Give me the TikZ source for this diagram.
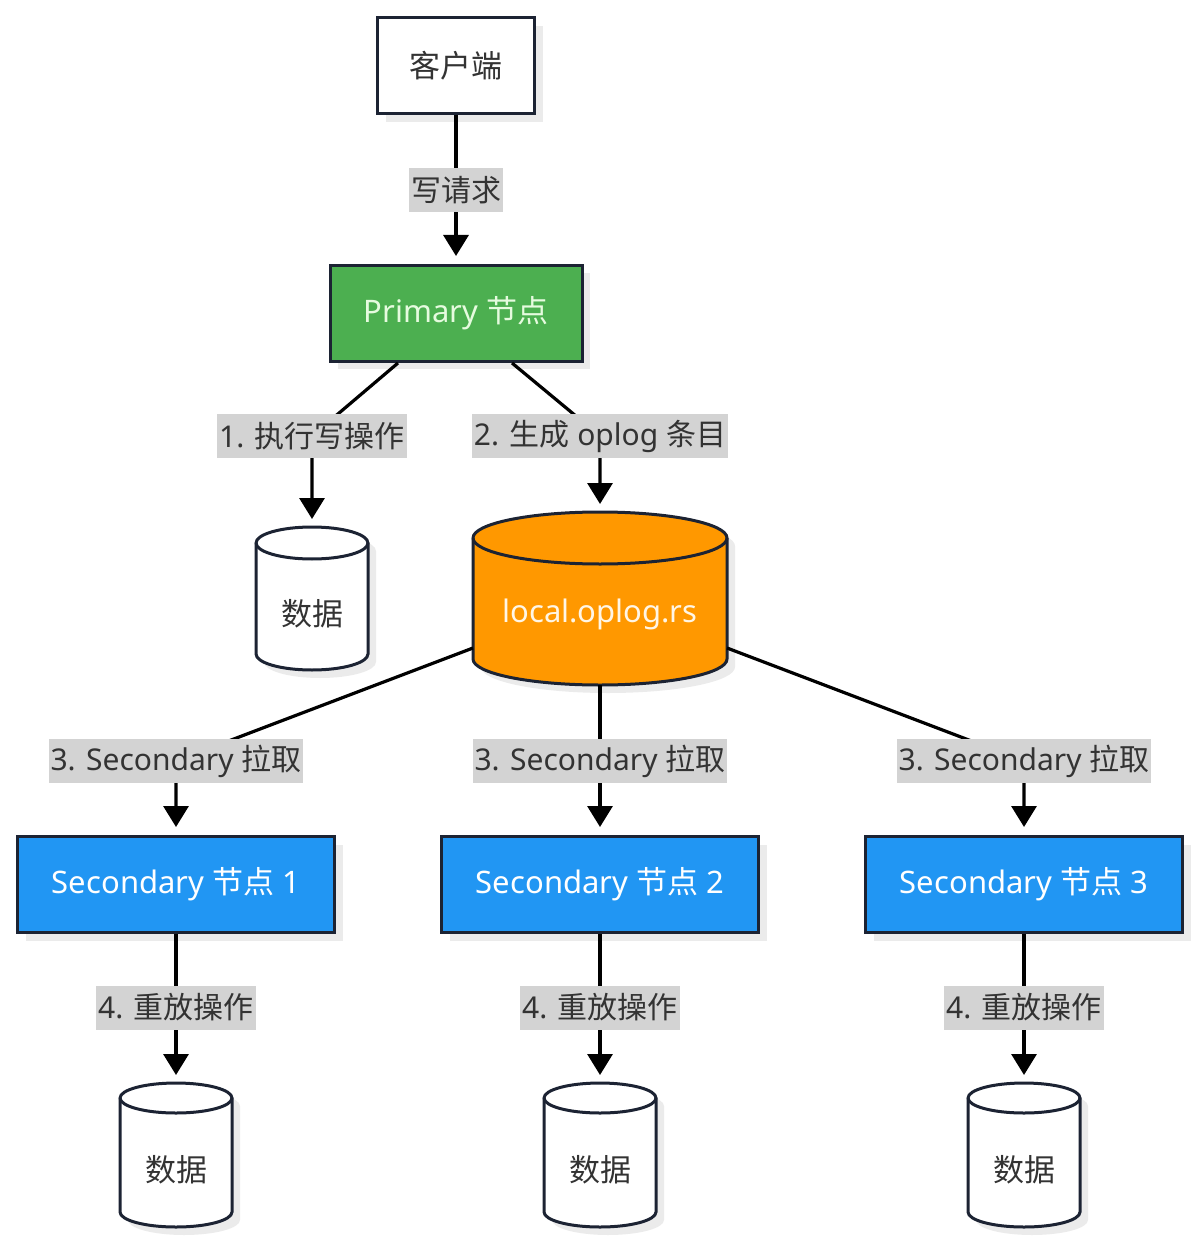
\documentclass[tikz,border=0pt]{standalone}
\usepackage{fontspec}
\setmainfont{Noto Sans}
\newfontfamily\cjk{Noto Sans CJK SC}
\usetikzlibrary{arrows.meta,shadows}
\definecolor{bd}{HTML}{1C2333}
\definecolor{grn}{HTML}{4CAF50}
\definecolor{blu}{HTML}{2196F3}
\definecolor{org}{HTML}{FF9800}
\definecolor{lblbg}{HTML}{D3D3D3}
\definecolor{txt}{HTML}{333333}
\definecolor{grntxt}{HTML}{E6FBDF}
\definecolor{orgtxt}{HTML}{FFF6E6}
\definecolor{shd}{HTML}{EBEBEB}
% name, cx, top-ellipse centre y, bottom-ellipse centre y, x radius, y radius, fill
\newcommand\dbcyl[7]{%
  \fill[shd] ({#2-#5+8},{-#3-8}) -- ({#2-#5+8},{-#4-8})
    arc[start angle=180,end angle=360,x radius=#5,y radius=#6]
    -- ({#2+#5+8},{-#3-8})
    arc[start angle=0,end angle=180,x radius=#5,y radius=#6] -- cycle;
  \filldraw[cylline,fill=#7] ({#2-#5},{-#3}) -- ({#2-#5},{-#4})
    arc[start angle=180,end angle=360,x radius=#5,y radius=#6]
    -- ({#2+#5},{-#3})
    arc[start angle=0,end angle=180,x radius=#5,y radius=#6] -- cycle;
  \draw[cylline] ({#2-#5},{-#3}) arc[start angle=180,end angle=360,x radius=#5,y radius=#6];
  \coordinate (#1) at ({#2},{-#3+#6});
}
\begin{document}
\begin{tikzpicture}[x=0.5pt,y=0.5pt,
  font=\fontsize{15.5pt}{18pt}\selectfont,
  box/.style={draw=bd, line width=1.5pt, inner sep=0pt, minimum height=48pt,
    drop shadow={shadow xshift=4pt,shadow yshift=-4pt,fill=shd,opacity=1}},
  cylline/.style={draw=bd, line width=1.5pt},
  secbox/.style={box, fill=blu, text=white, minimum width=158.5pt},
  lbl/.style={fill=lblbg, text=txt, inner xsep=1pt, inner ysep=0pt, minimum height=22pt,
    font=\fontsize{15pt}{18pt}\selectfont},
  conn/.style={draw=black, line width=1.6pt},
  arr/.style={conn, -{Triangle[width=12.5pt,length=10.5pt]}, shorten >=4pt},
  dbtext/.style={text=txt}
]
\useasboundingbox (0,0) rectangle (1200,-1245);

% boxes
\node[box, fill=white, text=txt, minimum width=78.5pt] (cli) at (456,-66) {\cjk 客户端};
\node[box, fill=grn, text=grntxt, minimum width=126pt] (prim) at (456,-313.5) {Primary {\cjk 节点}};
\node[secbox] (s1) at (176,-884.5) {Secondary {\cjk 节点} 1};
\node[secbox] (s2) at (600,-884.5) {Secondary {\cjk 节点} 2};
\node[secbox] (s3) at (1024,-884.5) {Secondary {\cjk 节点} 3};

% cylinders
\dbcyl{d0}{312}{543}{654}{56}{16}{white}
\node[dbtext] (d0t) at (312,-614) {\cjk 数据};
\dbcyl{op}{600}{538}{659}{127}{26}{org}
\node[text=orgtxt] (opt) at (600,-614) {local.oplog.rs};
\dbcyl{d1}{176}{1098}{1212}{56}{15}{white}
\node[dbtext] (d1t) at (176,-1170) {\cjk 数据};
\dbcyl{d2}{600}{1098}{1212}{56}{15}{white}
\node[dbtext] (d2t) at (600,-1170) {\cjk 数据};
\dbcyl{d3}{1024}{1098}{1212}{56}{15}{white}
\node[dbtext] (d3t) at (1024,-1170) {\cjk 数据};

% connector points
\coordinate (opL) at (473,-648);
\coordinate (opR) at (727,-648);
\coordinate (opB) at (600,-685);
\coordinate (k0) at (456,-190);
\coordinate (k1) at (312,-436);
\coordinate (k2) at (600,-436);
\coordinate (k3a) at (176,-761);
\coordinate (k3b) at (600,-761);
\coordinate (k3c) at (1024,-761);
\coordinate (k4a) at (176,-1007.5);
\coordinate (k4b) at (600,-1007.5);
\coordinate (k4c) at (1024,-1007.5);

% connectors
\draw[arr] (cli) -- (prim);
\draw[arr] ([xshift=-29pt]prim.south) -- (k1) -- (d0);
\draw[arr] ([xshift=28pt]prim.south) -- (k2) -- (op);
\draw[arr] (opL) -- (k3a) -- (s1);
\draw[arr] (opB) -- (k3b) -- (s2);
\draw[arr] (opR) -- (k3c) -- (s3);
\draw[arr] (s1) -- (k4a) -- (d1);
\draw[arr] (s2) -- (k4b) -- (d2);
\draw[arr] (s3) -- (k4c) -- (d3);

% labels
\node[lbl] (l0) at (k0) {\cjk 写请求};
\node[lbl] (l1) at (k1) {1. {\cjk 执行写操作}};
\node[lbl] (l2) at (k2) {2. {\cjk 生成} oplog {\cjk 条目}};
\node[lbl] (l3a) at (k3a) {3. Secondary {\cjk 拉取}};
\node[lbl] (l3b) at (k3b) {3. Secondary {\cjk 拉取}};
\node[lbl] (l3c) at (k3c) {3. Secondary {\cjk 拉取}};
\node[lbl] (l4a) at (k4a) {4. {\cjk 重放操作}};
\node[lbl] (l4b) at (k4b) {4. {\cjk 重放操作}};
\node[lbl] (l4c) at (k4c) {4. {\cjk 重放操作}};
\end{tikzpicture}
\end{document}
